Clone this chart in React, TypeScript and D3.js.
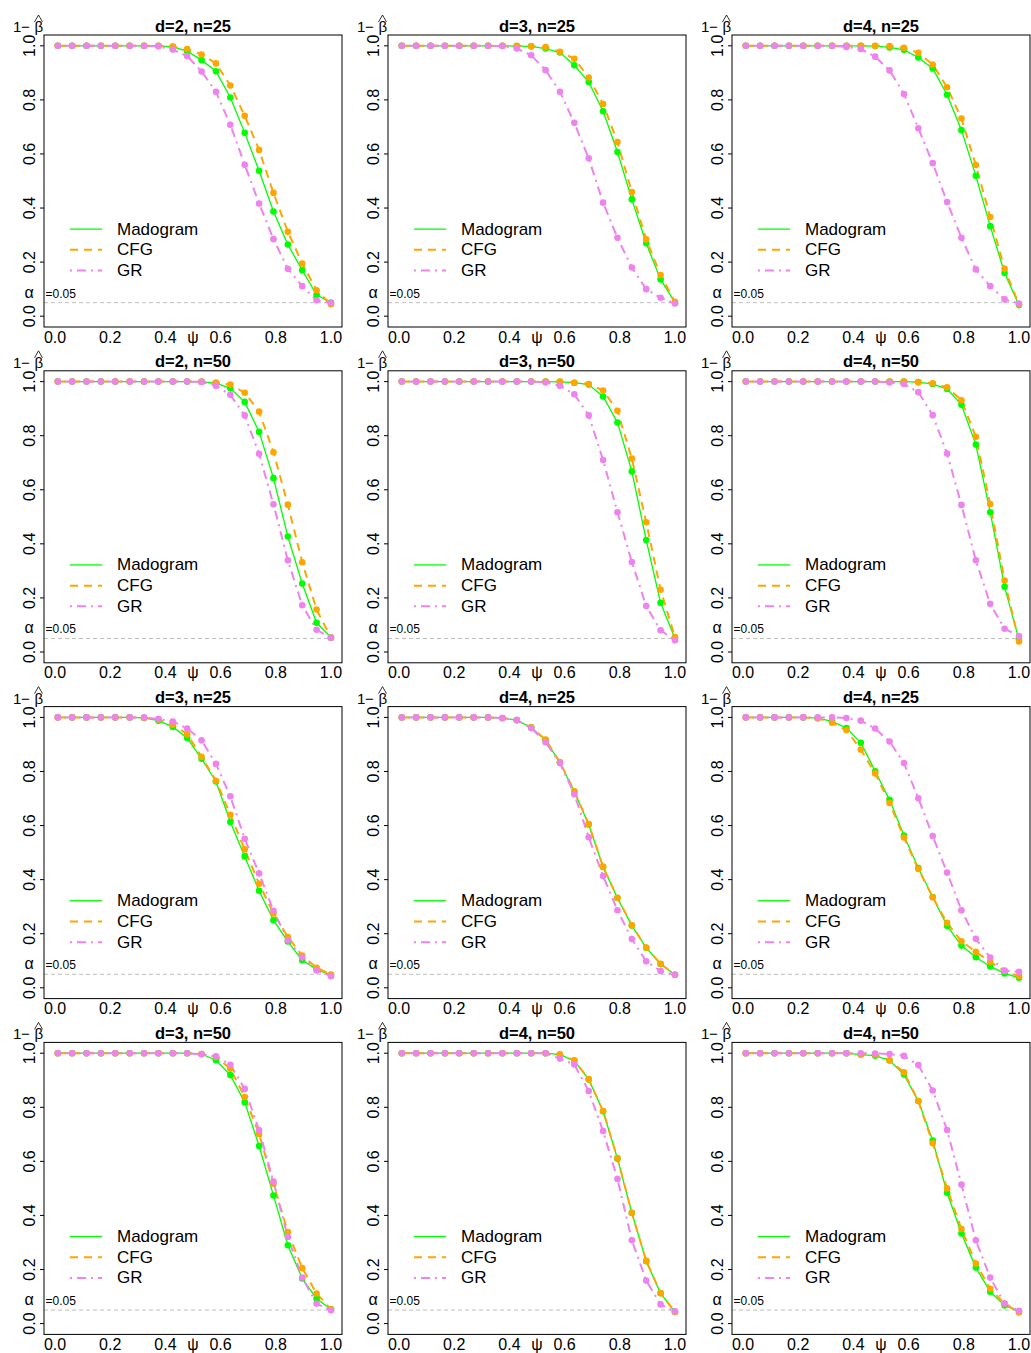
import React from "react";
import * as d3 from "d3";

const PSI = [0.01, 0.0621, 0.1142, 0.1663, 0.2184, 0.2705, 0.3226, 0.3747, 0.4268, 0.4789, 0.5311, 0.5832, 0.6353, 0.6874, 0.7395, 0.7916, 0.8437, 0.8958, 0.9479, 1.0];

const TITLES = ["d=2, n=25", "d=3, n=25", "d=4, n=25", "d=2, n=50", "d=3, n=50", "d=4, n=50", "d=3, n=25", "d=4, n=25", "d=4, n=25", "d=3, n=50", "d=4, n=50", "d=4, n=50"];
const X_TICKS = [0, 0.2, 0.4, 0.6, 0.8, 1.0];
const Y_TICKS = [0, 0.2, 0.4, 0.6, 0.8, 1.0];
const LEGEND = ["Madogram", "CFG", "GR"];
const ALPHA = 0.05;

const MADO_1 = [1, 1, 1, 1, 1, 1, 1, 1, 0.996, 0.98, 0.947, 0.906, 0.809, 0.678, 0.538, 0.387, 0.265, 0.17, 0.079, 0.05];
const CFG_1 = [1, 1, 1, 1, 1, 1, 1, 1, 0.997, 0.988, 0.968, 0.935, 0.853, 0.741, 0.615, 0.456, 0.312, 0.195, 0.096, 0.044];
const GR_1 = [1, 1, 1, 1, 1, 1, 1, 0.998, 0.986, 0.962, 0.905, 0.83, 0.708, 0.56, 0.417, 0.285, 0.175, 0.111, 0.059, 0.049];

const MADO_2 = [1, 1, 1, 1, 1, 1, 1, 1, 0.999, 0.998, 0.99, 0.975, 0.928, 0.866, 0.758, 0.607, 0.432, 0.27, 0.136, 0.05];
const CFG_2 = [1, 1, 1, 1, 1, 1, 1, 1, 1.0, 0.998, 0.995, 0.978, 0.952, 0.883, 0.785, 0.644, 0.459, 0.284, 0.152, 0.053];
const GR_2 = [1, 1, 1, 1, 1, 1, 1, 0.999, 0.99, 0.965, 0.91, 0.83, 0.715, 0.584, 0.42, 0.29, 0.18, 0.1, 0.068, 0.047];

const MADO_3 = [1, 1, 1, 1, 1, 1, 1, 1, 1.0, 0.999, 0.994, 0.985, 0.957, 0.916, 0.819, 0.688, 0.519, 0.333, 0.16, 0.041];
const CFG_3 = [1, 1, 1, 1, 1, 1, 1, 1, 1.0, 1.0, 0.999, 0.993, 0.974, 0.931, 0.847, 0.731, 0.559, 0.367, 0.175, 0.044];
const GR_3 = [1, 1, 1, 1, 1, 1, 1, 0.996, 0.988, 0.96, 0.909, 0.822, 0.695, 0.566, 0.422, 0.29, 0.173, 0.111, 0.062, 0.047];

const MADO_4 = [1, 1, 1, 1, 1, 1, 1, 1, 1, 1, 0.999, 0.994, 0.975, 0.925, 0.814, 0.643, 0.427, 0.253, 0.108, 0.053];
const CFG_4 = [1, 1, 1, 1, 1, 1, 1, 1, 1, 1, 1.0, 0.997, 0.989, 0.959, 0.889, 0.739, 0.545, 0.332, 0.157, 0.053];
const GR_4 = [1, 1, 1, 1, 1, 1, 1, 1, 1, 1, 0.999, 0.985, 0.951, 0.875, 0.733, 0.546, 0.339, 0.173, 0.082, 0.053];

const MADO_5 = [1, 1, 1, 1, 1, 1, 1, 1, 1, 1, 1.0, 0.999, 0.996, 0.989, 0.945, 0.849, 0.668, 0.414, 0.182, 0.05];
const CFG_5 = [1, 1, 1, 1, 1, 1, 1, 1, 1, 1, 1.0, 1.0, 0.996, 0.991, 0.967, 0.892, 0.715, 0.48, 0.23, 0.055];
const GR_5 = [1, 1, 1, 1, 1, 1, 1, 1, 1, 1, 0.997, 0.985, 0.953, 0.875, 0.71, 0.517, 0.333, 0.17, 0.08, 0.043];

const MADO_6 = [1, 1, 1, 1, 1, 1, 1, 1, 1, 1, 1.0, 1.0, 0.998, 0.991, 0.973, 0.914, 0.767, 0.517, 0.241, 0.045];
const CFG_6 = [1, 1, 1, 1, 1, 1, 1, 1, 1, 1, 1.0, 1.0, 0.998, 0.994, 0.979, 0.931, 0.796, 0.547, 0.264, 0.039];
const GR_6 = [1, 1, 1, 1, 1, 1, 1, 1, 1, 1, 0.997, 0.991, 0.961, 0.876, 0.734, 0.544, 0.339, 0.178, 0.086, 0.059];

const MADO_7 = [1, 1, 1, 1, 1, 1, 0.998, 0.988, 0.965, 0.924, 0.847, 0.763, 0.613, 0.486, 0.359, 0.25, 0.171, 0.102, 0.068, 0.047];
const CFG_7 = [1, 1, 1, 1, 1, 1, 0.999, 0.992, 0.973, 0.938, 0.854, 0.766, 0.64, 0.512, 0.385, 0.275, 0.188, 0.119, 0.074, 0.049];
const GR_7 = [1, 1, 1, 1, 1, 1, 1.0, 0.994, 0.985, 0.959, 0.915, 0.828, 0.708, 0.551, 0.423, 0.285, 0.176, 0.112, 0.064, 0.043];

const MADO_8 = [1, 1, 1, 1, 1, 1, 1, 0.997, 0.99, 0.963, 0.916, 0.833, 0.725, 0.604, 0.447, 0.332, 0.23, 0.148, 0.088, 0.048];
const CFG_8 = [1, 1, 1, 1, 1, 1, 1, 0.998, 0.99, 0.963, 0.918, 0.834, 0.727, 0.606, 0.448, 0.333, 0.231, 0.149, 0.089, 0.048];
const GR_8 = [1, 1, 1, 1, 1, 1, 1, 0.998, 0.99, 0.961, 0.908, 0.831, 0.716, 0.557, 0.413, 0.287, 0.18, 0.098, 0.062, 0.048];

const MADO_9 = [1, 1, 1, 1, 1, 0.997, 0.985, 0.961, 0.906, 0.801, 0.695, 0.563, 0.443, 0.336, 0.229, 0.156, 0.113, 0.079, 0.053, 0.037];
const CFG_9 = [1, 1, 1, 1, 1, 0.997, 0.98, 0.953, 0.881, 0.793, 0.683, 0.556, 0.439, 0.335, 0.24, 0.172, 0.133, 0.096, 0.062, 0.043];
const GR_9 = [1, 1, 1, 1, 1, 1.0, 1.0, 0.998, 0.988, 0.959, 0.911, 0.831, 0.701, 0.561, 0.426, 0.287, 0.181, 0.112, 0.064, 0.059];

const MADO_10 = [1, 1, 1, 1, 1, 1, 1, 1, 1, 1, 0.997, 0.974, 0.919, 0.819, 0.657, 0.474, 0.29, 0.167, 0.092, 0.053];
const CFG_10 = [1, 1, 1, 1, 1, 1, 1, 1, 1, 1, 0.997, 0.986, 0.943, 0.838, 0.701, 0.517, 0.339, 0.205, 0.111, 0.053];
const GR_10 = [1, 1, 1, 1, 1, 1, 1, 1, 1, 1, 0.996, 0.989, 0.957, 0.868, 0.716, 0.525, 0.32, 0.17, 0.074, 0.049];

const MADO_11 = [1, 1, 1, 1, 1, 1, 1, 1, 1, 1, 1, 0.995, 0.972, 0.903, 0.785, 0.61, 0.409, 0.231, 0.112, 0.043];
const CFG_11 = [1, 1, 1, 1, 1, 1, 1, 1, 1, 1, 1, 0.995, 0.974, 0.904, 0.786, 0.612, 0.41, 0.232, 0.113, 0.043];
const GR_11 = [1, 1, 1, 1, 1, 1, 1, 1, 1, 1, 1, 0.98, 0.958, 0.86, 0.712, 0.535, 0.308, 0.159, 0.071, 0.045];

const MADO_12 = [1, 1, 1, 1, 1, 1, 1, 1, 0.995, 0.991, 0.973, 0.921, 0.823, 0.677, 0.484, 0.333, 0.207, 0.118, 0.067, 0.045];
const CFG_12 = [1, 1, 1, 1, 1, 1, 1, 1, 0.995, 0.994, 0.974, 0.929, 0.823, 0.667, 0.5, 0.35, 0.222, 0.129, 0.074, 0.041];
const GR_12 = [1, 1, 1, 1, 1, 1, 1, 1, 1.0, 0.999, 0.997, 0.99, 0.956, 0.862, 0.716, 0.514, 0.308, 0.17, 0.074, 0.047];

const PANELS = [
  [MADO_1, CFG_1, GR_1], [MADO_2, CFG_2, GR_2], [MADO_3, CFG_3, GR_3],
  [MADO_4, CFG_4, GR_4], [MADO_5, CFG_5, GR_5], [MADO_6, CFG_6, GR_6],
  [MADO_7, CFG_7, GR_7], [MADO_8, CFG_8, GR_8], [MADO_9, CFG_9, GR_9],
  [MADO_10, CFG_10, GR_10], [MADO_11, CFG_11, GR_11], [MADO_12, CFG_12, GR_12],
];

const STYLES = [
  { color: "#00FF00", width: 1.3, dash: undefined as string | undefined },
  { color: "#FFA500", width: 2, dash: "8 6" },
  { color: "#EE82EE", width: 2, dash: "2 5 9 5" },
];

const W = 1031;
const H = 1353;
const COL_X0 = 44;
const COL_STEP = 344;
const ROW_Y0 = 35;
const ROW_STEP = 335.8;
const BOX_W = 298;
const BOX_H = 292;
const FONT = "'Liberation Sans', Arial, Helvetica, sans-serif";

function Panel({ idx }: { idx: number }) {
  const r = Math.floor(idx / 3);
  const c = idx % 3;
  const left = COL_X0 + c * COL_STEP;
  const top = ROW_Y0 + r * ROW_STEP;
  const x = d3.scaleLinear().domain([-0.04, 1.04]).range([0, BOX_W]);
  const y = d3.scaleLinear().domain([-0.04, 1.04]).range([BOX_H, 0]);
  const line = d3
    .line<number>()
    .x((_, i) => x(PSI[i]))
    .y((d) => y(d));
  const series = PANELS[idx];
  const legY0 = y(0.322);
  const legStep = 20.7;
  return (
    <g transform={`translate(${left},${top})`} fontFamily={FONT}>
      <line x1={0} x2={x(1)} y1={y(ALPHA)} y2={y(ALPHA)} stroke="#BEBEBE" strokeWidth={1} strokeDasharray="4 3" />
      {series.map((s, k) => (
        <path key={`l${k}`} d={line(s) || ""} fill="none" stroke={STYLES[k].color} strokeWidth={STYLES[k].width} strokeDasharray={STYLES[k].dash} />
      ))}
      {series.map((s, k) => (
        <g key={`p${k}`} fill={STYLES[k].color}>
          {s.map((v, i) => (
            <circle key={i} cx={x(PSI[i])} cy={y(v)} r={3.3} />
          ))}
        </g>
      ))}
      <rect x={0} y={0} width={BOX_W} height={BOX_H} fill="none" stroke="#000" strokeWidth={1} />
      <text x={BOX_W / 2} y={-3.5} textAnchor="middle" fontWeight="bold" fontSize={16.5}>
        {TITLES[idx]}
      </text>
      {Y_TICKS.map((t) => (
        <g key={`yt${t}`}>
          <line x1={-4} x2={0} y1={y(t)} y2={y(t)} stroke="#000" />
          <text transform={`translate(-9,${y(t)}) rotate(-90)`} textAnchor="middle" fontSize={16}>
            {t.toFixed(1)}
          </text>
        </g>
      ))}
      {X_TICKS.map((t) => (
        <text key={`xt${t}`} x={x(t)} y={BOX_H + 15.5} textAnchor="middle" fontSize={16}>
          {t.toFixed(1)}
        </text>
      ))}
      <text x={x(0.5)} y={BOX_H + 15.5} textAnchor="middle" fontSize={16}>
        ψ
      </text>
      <text x={-31} y={-3} fontSize={15}>1</text>
      <text x={-23} y={-3} fontSize={15}>−</text>
      <text x={-9.5} y={-3} fontSize={15}>β</text>
      <path d="M -9.5 -13 L -5.5 -20 L -1.5 -13" fill="none" stroke="#000" strokeWidth={0.8} />
      <text x={-15} y={y(ALPHA) - 5} textAnchor="middle" fontSize={16}>α</text>
      <text x={1.5} y={y(ALPHA) - 5} fontSize={12}>=0.05</text>
      {LEGEND.map((name, k) => (
        <g key={`lg${k}`}>
          <line x1={26} x2={58} y1={legY0 + k * legStep} y2={legY0 + k * legStep} stroke={STYLES[k].color} strokeWidth={STYLES[k].width} strokeDasharray={STYLES[k].dash} />
          <text x={73} y={legY0 + k * legStep} dominantBaseline="central" fontSize={17}>
            {name}
          </text>
        </g>
      ))}
    </g>
  );
}

export default function App() {
  return (
    <svg width={W} height={H} style={{ position: "absolute", left: 0, top: 0, background: "#fff" }}>
      <rect x={0} y={0} width={W} height={H} fill="#fff" />
      {PANELS.map((_, i) => (
        <Panel key={i} idx={i} />
      ))}
    </svg>
  );
}
